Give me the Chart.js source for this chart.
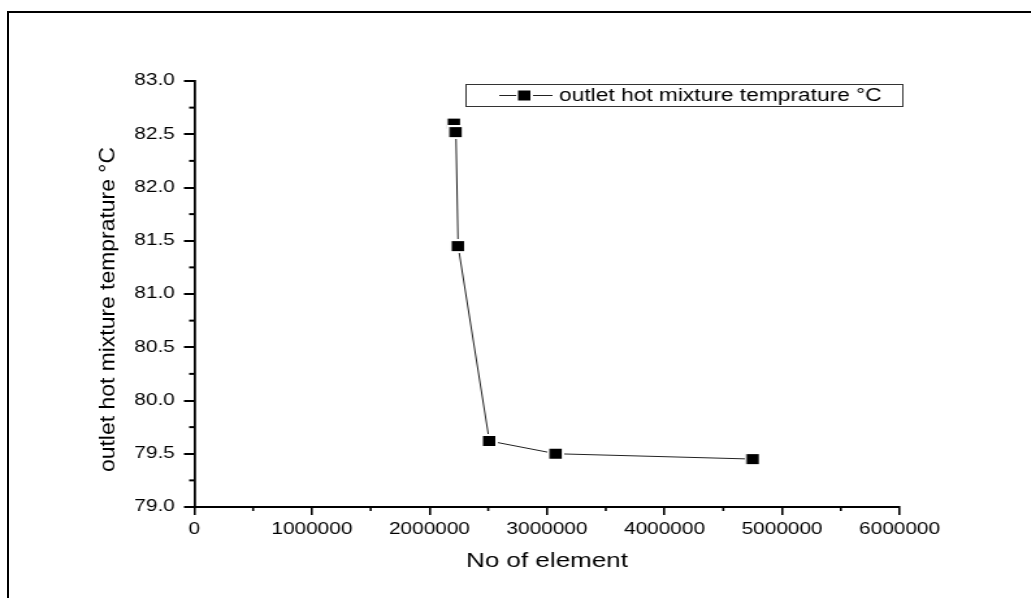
<!DOCTYPE html>
<html>
<head>
<meta charset="utf-8">
<script src="https://cdn.jsdelivr.net/npm/chart.js@4.4.1/dist/chart.umd.min.js"></script>
<style>
    html, body { margin: 0; padding: 0; background: #fff; overflow: hidden; }
    #stage { position: relative; width: 1031px; height: 598px; overflow: hidden; }
    /* the plot is laid out narrow and widened, like the exported figure */
    #wrap { position: absolute; left: 0; top: 0; width: 793px; height: 598px; transform: scaleX(1.3); transform-origin: 0 0; }
    #frame { position: absolute; left: 7px; top: 11px; width: 1100px; height: 700px; border-top: 2px solid #000; border-left: 2px solid #000; pointer-events: none; }
</style>
</head>
<body>
<div id="stage">
    <div id="wrap"><canvas id="chart" width="793" height="598"></canvas></div>
    <div id="frame"></div>
</div>
<script>
// mesh size vs outlet temperature
const elementCounts = [2210000, 2225000, 2244000, 2510000, 3076000, 4752000];
const outletTemps   = [82.60, 82.52, 81.45, 79.62, 79.50, 79.45];

const xTickValues = [0, 1000000, 2000000, 3000000, 4000000, 5000000, 6000000];
const xMinorTicks = [500000, 1500000, 2500000, 3500000, 4500000, 5500000];
const yTickValues = [79.0, 79.5, 80.0, 80.5, 81.0, 81.5, 82.0, 82.5, 83.0];
const yMinorTicks = [79.25, 79.75, 80.25, 80.75, 81.25, 81.75, 82.25, 82.75];

const seriesLabel = 'outlet hot mixture temprature °C';
const xTitle = 'No of element';
const yTitle = 'outlet hot mixture temprature °C';

const fontFamily = "'Liberation Sans', Arial, sans-serif";

// filled square with a thin white margin so the line stops short of it
function makeMarker() {
    const c = document.createElement('canvas');
    c.width = 13;
    c.height = 14;
    const g = c.getContext('2d');
    g.fillStyle = '#fff';
    g.fillRect(0, 0, 13, 14);
    g.fillStyle = '#000';
    g.fillRect(1.5, 2, 9.5, 10);
    return c;
}
const marker = makeMarker();

// short outward ticks between the labelled ones
const minorTicks = {
    id: 'minorTicks',
    afterDraw(chart) {
        const { ctx, chartArea, scales } = chart;
        ctx.save();
        ctx.strokeStyle = '#000';
        ctx.lineWidth = 2;
        yMinorTicks.forEach(v => {
            const y = scales.y.getPixelForValue(v);
            ctx.beginPath();
            ctx.moveTo(chartArea.left - 4, y);
            ctx.lineTo(chartArea.left, y);
            ctx.stroke();
        });
        ctx.lineWidth = 1.6;
        xMinorTicks.forEach(v => {
            const x = scales.x.getPixelForValue(v);
            ctx.beginPath();
            ctx.moveTo(x, chartArea.bottom);
            ctx.lineTo(x, chartArea.bottom + 4);
            ctx.stroke();
        });
        ctx.restore();
    }
};

// boxed legend: line - square - line, then the label
const legendBox = {
    id: 'legendBox',
    afterDraw(chart) {
        const { ctx } = chart;
        const ds = chart.data.datasets[0];
        const box = { x: 358.5, y: 84.5, w: 336, h: 22 };
        const cy = box.y + box.h / 2;
        ctx.save();
        ctx.strokeStyle = '#333';
        ctx.lineWidth = 1;
        ctx.strokeRect(box.x, box.y, box.w, box.h);

        ctx.strokeStyle = '#222';
        ctx.beginPath();
        ctx.moveTo(384, cy);
        ctx.lineTo(425, cy);
        ctx.stroke();
        ctx.drawImage(marker, 403.5 - marker.width / 2, cy - marker.height / 2);

        ctx.fillStyle = '#000';
        ctx.font = '17.5px ' + fontFamily;
        ctx.textBaseline = 'middle';
        ctx.textAlign = 'left';
        ctx.fillText(ds.label, 430, cy + 1);
        ctx.restore();
    }
};

// rotated y title, stretched along its length
const yAxisTitle = {
    id: 'yAxisTitle',
    afterDraw(chart) {
        const { ctx } = chart;
        ctx.save();
        ctx.font = '17px ' + fontFamily;
        const w = ctx.measureText(yTitle).width;
        ctx.translate(83.5, 309.5);
        ctx.rotate(-Math.PI / 2);
        ctx.scale(325 / w, 1);
        ctx.fillStyle = '#000';
        ctx.textAlign = 'center';
        ctx.textBaseline = 'middle';
        ctx.fillText(yTitle, 0, 0);
        ctx.restore();
    }
};

const ctx = document.getElementById('chart').getContext('2d');
new Chart(ctx, {
    type: 'scatter',
    data: {
        datasets: [{
            label: seriesLabel,
            data: elementCounts.map((x, i) => ({ x: x, y: outletTemps[i] })),
            showLine: true,
            borderColor: '#222',
            borderWidth: 1,
            pointStyle: marker,
            pointRadius: 6,
            tension: 0,
        }]
    },
    options: {
        responsive: false,
        animation: false,
        devicePixelRatio: 1,
        layout: { padding: { top: 81, right: 101, left: 0, bottom: 0 } },
        plugins: {
            legend: { display: false },
            tooltip: { enabled: false },
        },
        scales: {
            x: {
                type: 'linear',
                min: 0,
                max: 6000000,
                afterBuildTicks: s => { s.ticks = xTickValues.map(v => ({ value: v })); },
                afterFit: s => { s.height = 91; },
                grid: { drawOnChartArea: false, drawTicks: true, tickLength: 8, color: '#000', lineWidth: 1.6 },
                border: { color: '#000', width: 2 },
                ticks: {
                    color: '#000',
                    font: { family: fontFamily, size: 16 },
                    padding: 5,
                    maxRotation: 0,
                    autoSkip: false,
                    callback: v => String(v),
                },
                title: {
                    display: true,
                    text: xTitle,
                    color: '#000',
                    font: { family: fontFamily, size: 20 },
                    padding: { top: 0, bottom: 25 },
                },
            },
            y: {
                type: 'linear',
                min: 79,
                max: 83,
                afterBuildTicks: s => { s.ticks = yTickValues.map(v => ({ value: v })); },
                afterFit: s => { s.width = 149.5; },
                grid: { drawOnChartArea: false, drawTicks: true, tickLength: 8, color: '#000', lineWidth: 2 },
                border: { color: '#000', width: 1.8 },
                ticks: {
                    color: '#000',
                    font: { family: fontFamily, size: 16 },
                    padding: 7,
                    autoSkip: false,
                    callback: v => Number(v).toFixed(1),
                },
            },
        },
    },
    plugins: [minorTicks, legendBox, yAxisTitle],
});
</script>
</body>
</html>
